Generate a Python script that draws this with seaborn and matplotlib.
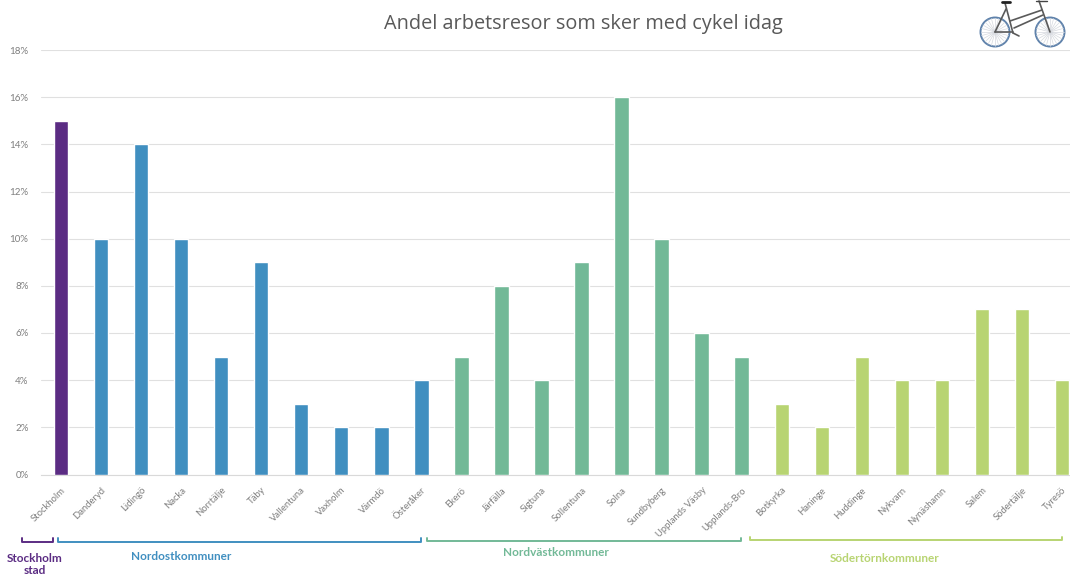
import numpy as np
import pandas as pd
import matplotlib
matplotlib.use('Agg')
import matplotlib.pyplot as plt
from matplotlib.patches import Circle
import seaborn as sns

kommuner = ['Stockholm', 'Danderyd', 'Lidingö', 'Nacka', 'Norrtälje', 'Täby', 'Vallentuna', 'Vaxholm', 'Värmdö',
            'Österåker', 'Ekerö', 'Järfälla', 'Sigtuna', 'Sollentuna', 'Solna', 'Sundbyberg', 'Upplands Väsby',
            'Upplands-Bro', 'Botkyrka', 'Haninge', 'Huddinge', 'Nykvarn', 'Nynäshamn', 'Salem', 'Södertälje', 'Tyresö']
andel = [15, 10, 14, 10, 5, 9, 3, 2, 2, 4, 5, 8, 4, 9, 16, 10, 6, 5, 3, 2, 5, 4, 4, 7, 7, 4]
grupper = ['Stockholm stad'] + ['Nordostkommuner'] * 9 + ['Nordvästkommuner'] * 8 + ['Södertörnkommuner'] * 8
farger = {'Stockholm stad': '#5b2c83', 'Nordostkommuner': '#408fc0',
          'Nordvästkommuner': '#72b997', 'Södertörnkommuner': '#b8d472'}
y_ticks = [0, 2, 4, 6, 8, 10, 12, 14, 16, 18]

W, H = 1070, 576
sns.set_theme(style='white')
plt.rcParams['font.family'] = ['Lato', 'DejaVu Sans']

df = pd.DataFrame({'kommun': kommuner, 'andel': andel, 'grupp': grupper})

fig = plt.figure(figsize=(W / 100, H / 100), dpi=100)
# axes goes past the right edge, the last slot is cut off in the original too
ax = fig.add_axes([41 / W, (H - 474.5) / H, 1041 / W, 424.5 / H])
sns.barplot(data=df, x='kommun', y='andel', hue='grupp', palette=farger, order=kommuner,
            dodge=False, width=0.36, saturation=1, legend=False, ax=ax, zorder=3)
ax.set_xlim(-0.5, len(kommuner) - 0.5)
ax.set_ylim(0, 18)
ax.set_xlabel('')
ax.set_ylabel('')
ax.set_yticks(y_ticks)
ax.set_yticklabels([f'{v}%' for v in y_ticks], fontsize=7, color='#7f7f7f')
ax.set_xticks(range(len(kommuner)))
ax.set_xticklabels(kommuner, rotation=45, ha='right', va='top', rotation_mode='anchor',
                   fontsize=6.8, color='#7f7f7f')
ax.tick_params(axis='x', length=0, pad=8)
ax.tick_params(axis='y', length=0, pad=9)
ax.grid(axis='y', color='#e0e0e0', linewidth=0.8, zorder=0)
ax.set_axisbelow(True)
for s in ['top', 'left', 'right']:
    ax.spines[s].set_visible(False)
ax.spines['bottom'].set_color('#d9d9d9')
ax.spines['bottom'].set_linewidth(0.8)

# overlay in pixel coordinates for title, brackets and the bike
ov = fig.add_axes([0, 0, 1, 1], facecolor='none')
ov.set_xlim(0, W)
ov.set_ylim(H, 0)
ov.axis('off')

ov.text(583.5, 24, 'Andel arbetsresor som sker med cykel idag', ha='center', va='center',
        fontsize=14.35, color='#595959', family=['Open Sans', 'DejaVu Sans'])


def bracket(x0, x1, y, color):
    ov.plot([x0, x0, x1, x1], [y - 3.5, y, y, y - 3.5], color=color, linewidth=1.4, solid_joinstyle='round')


bracket(22, 53, 541.5, farger['Stockholm stad'])
bracket(58, 421, 541.5, farger['Nordostkommuner'])
bracket(427, 741, 541, farger['Nordvästkommuner'])
bracket(750, 1062, 540, farger['Södertörnkommuner'])

etikett = dict(ha='center', va='center', fontsize=8.5, fontweight='bold')
ov.text(34.5, 558, 'Stockholm', color=farger['Stockholm stad'], **etikett)
ov.text(34.5, 570, 'stad', color=farger['Stockholm stad'], **etikett)
ov.text(181.5, 557, 'Nordostkommuner', color=farger['Nordostkommuner'], **etikett)
ov.text(556, 553, 'Nordvästkommuner', color=farger['Nordvästkommuner'], **etikett)
ov.text(885, 558, 'Södertörnkommuner', color=farger['Södertörnkommuner'], **etikett)

# bike
for cx in [995, 1050]:
    for a in np.linspace(0, np.pi, 12, endpoint=False):
        dx, dy = 14 * np.cos(a), 14 * np.sin(a)
        ov.plot([cx - dx, cx + dx], [32 - dy, 32 + dy], color='#d5d8de', linewidth=0.5)
    ov.add_patch(Circle((cx, 32), 14.5, fill=False, edgecolor='#5f82ab', linewidth=1.4))
ram = '#5a5a5a'
tubes = [((995, 32), (1006, 9)), ((1005, 3), (1013, 33)), ((995, 32), (1013, 32)), ((1010, 21), (1042, 10)),
         ((1014, 28), (1043, 15)), ((1039, 1), (1050, 32))]
for (x0, y0), (x1, y1) in tubes:
    ov.plot([x0, x1], [y0, y1], color=ram, linewidth=1.2)
ov.plot([1002, 1010], [2, 2], color='#222222', linewidth=2.0)
ov.plot([1036, 1047], [1, 1], color='#444444', linewidth=1.0)
ov.plot([1013, 1019], [33, 36], color=ram, linewidth=1.2)

fig.savefig('out.png', dpi=100)
